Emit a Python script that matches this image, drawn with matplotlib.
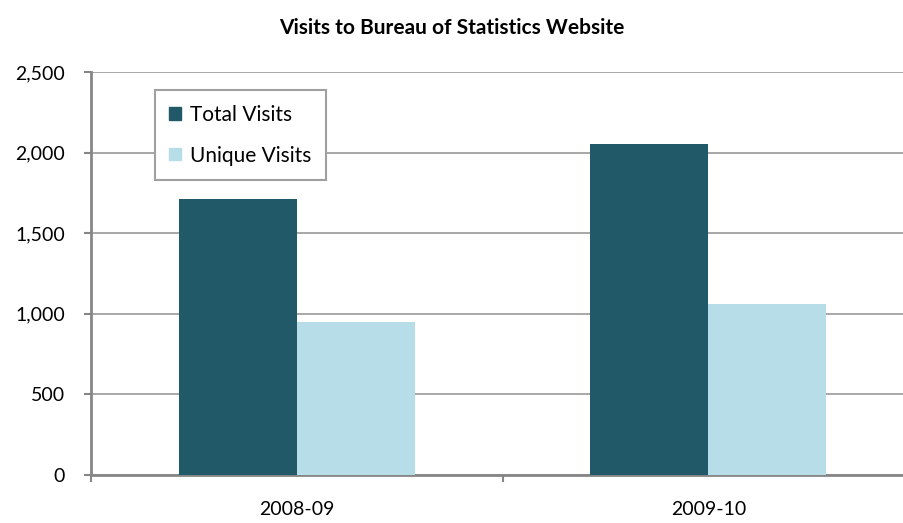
import numpy as np
import matplotlib.pyplot as plt
from matplotlib.patches import Patch

# Datos (miles de visitas)
anios = ["2008-09", "2009-10"]
visitas_totales = [1712, 2051]
visitas_unicas = [946, 1061]

plt.rcParams['font.family'] = ['Lato', 'DejaVu Sans']

fig = plt.figure(figsize=(9.04, 5.23), dpi=100)
# El eje se sale un poco por la derecha
ax = fig.add_axes([0.101, 0.0918, 0.910, 0.7706])

x = np.arange(len(anios))
ancho = 0.287
ax.bar(x - ancho / 2, visitas_totales, ancho, color="#215968", label="Total Visits", zorder=3)
ax.bar(x + ancho / 2, visitas_unicas, ancho, color="#b7dde8", label="Unique Visits", zorder=3)

ax.set_xlim(-0.5, 1.5)
ax.set_ylim(0, 2500)
ax.set_yticks(np.arange(0, 2501, 500))
ax.set_yticklabels([f"{v:,}" for v in range(0, 2501, 500)], fontsize=14)
ax.grid(axis="y", color="#a0a0a0", linewidth=1.3, zorder=0)

# Marcas del eje x en los limites de categoria
ax.set_xticks([-0.5, 0.5, 1.5])
ax.set_xticklabels([])
ax.set_xticks(x, minor=True)
ax.set_xticklabels(anios, minor=True, fontsize=14)
ax.tick_params(axis="x", which="minor", length=0, pad=19)
ax.tick_params(axis="x", which="major", length=5, width=1.5, color="#868686", direction="out")
ax.tick_params(axis="y", length=5, width=1.5, color="#868686", direction="out", pad=14)

for lado in ["top", "right"]:
    ax.spines[lado].set_visible(False)
for lado in ["left", "bottom"]:
    ax.spines[lado].set_color("#868686")
    ax.spines[lado].set_linewidth(2)

fig.text(0.5, 0.947, "Visits to Bureau of Statistics Website", ha="center", va="center",
         fontsize=15, fontweight="bold")

manejadores = [Patch(color="#215968", label="Total Visits"),
               Patch(color="#b7dde8", label="Unique Visits")]
leg = ax.legend(handles=manejadores, loc="upper left", bbox_to_anchor=(0.077, 0.955),
                fontsize=15, fancybox=False, framealpha=1, edgecolor="#a0a0a0",
                handlelength=0.55, handleheight=0.55, handletextpad=0.45,
                labelspacing=1.0, borderpad=0.7, borderaxespad=0)
leg.get_frame().set_linewidth(1.5)

fig.savefig("out.png", dpi=100)
